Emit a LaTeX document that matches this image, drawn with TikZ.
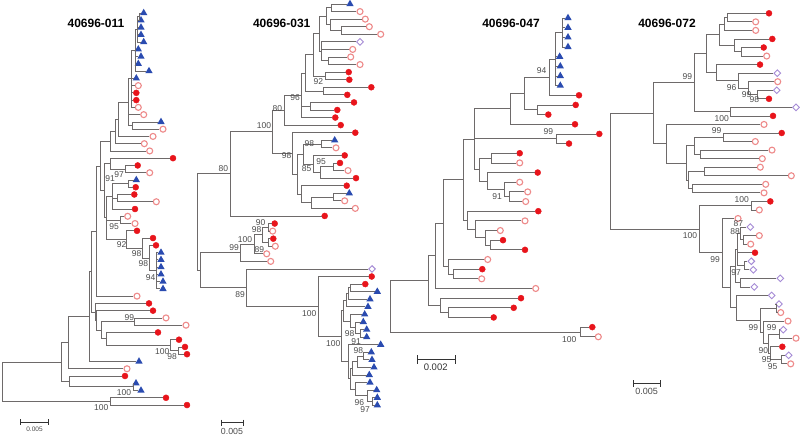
\documentclass[tikz,border=0pt]{standalone}
\usepackage{fontspec}
\setmainfont{Liberation Sans}
\usetikzlibrary{calc,shapes.geometric}
\definecolor{redF}{HTML}{E8141B}
\definecolor{redO}{HTML}{EE8A8A}
\definecolor{blueT}{HTML}{2A4BB0}
\definecolor{purD}{HTML}{A58BD6}
\definecolor{brc}{HTML}{6E6A6A}
\definecolor{labc}{HTML}{4D4D4D}
\newcommand{\lf}[4]{\node[#4] (#1) at (#2,{\yo+(#3-1)*\dy}) {};}
\newcommand{\cl}[5]{\path let \p1=($(#3)!.5!(#4)$) in coordinate (#1) at (#2pt,\y1);\foreach \ch in {#5}{\draw[br] (#1) |- (\ch);}}
\newcommand{\bs}[4]{\node[bsl] (#1) at (#2,#3) {#4};}
\tikzset{
 fil/.style={circle,fill=redF,draw=redF,inner sep=0pt,minimum size=6pt},
 opn/.style={circle,draw=redO,line width=1.1pt,fill=white,inner sep=0pt,minimum size=6pt},
 tri/.style={regular polygon,regular polygon sides=3,fill=blueT,inner sep=0pt,minimum size=8.5pt},
 dia/.style={diamond,draw=purD,line width=0.9pt,fill=white,inner sep=0pt,minimum size=7pt},
 br/.style={draw=brc,line width=0.8pt},
 bsl/.style={font=\fontsize{8.5}{9}\selectfont,text=labc,inner sep=0pt},
 ttl/.style={font=\bfseries\fontsize{12}{14}\selectfont,inner sep=0pt},
 sbar/.style={draw=black!80,line width=0.6pt,|-|},
}
\begin{document}
\begin{tikzpicture}[x=1pt,y=-1pt]
\fill[white] (0,0) rectangle (800,436);
\useasboundingbox (0,0) rectangle (800,436);
% ---------------- Tree 1 ----------------
\def\yo{13}\def\dy{7.26}
\lf{a1}{143.7}{1}{tri}\lf{a2}{141}{2}{tri}\lf{a3}{141}{3}{tri}\lf{a4}{141}{4}{tri}
\lf{a5}{143.7}{5}{tri}\lf{a6}{138.3}{6}{tri}\lf{a7}{141}{7}{tri}\lf{a8}{138.3}{8}{tri}
\lf{a9}{149}{9}{tri}\lf{a10}{136.3}{10}{tri}\lf{a11}{138.3}{11}{opn}\lf{a12}{136.3}{12}{fil}
\lf{a13}{136.3}{13}{fil}\lf{a14}{138.3}{14}{opn}\lf{a15}{143.7}{15}{opn}\lf{a16}{161}{16}{tri}
\lf{a17}{163}{17}{opn}\lf{a18}{153}{18}{opn}\lf{a19}{144.3}{19}{opn}\lf{a20}{149.7}{20}{opn}
\lf{a21}{173}{21}{fil}\lf{a22}{137.7}{22}{fil}\lf{a23}{149.7}{23}{opn}\lf{a24}{136.3}{24}{tri}
\lf{a25}{135.7}{25}{fil}\lf{a26}{134.3}{26}{fil}\lf{a27}{156.3}{27}{opn}\lf{a28}{135}{28}{fil}
\lf{a29}{127.7}{29}{opn}\lf{a30}{135}{30}{opn}\lf{a31}{137}{31}{fil}\lf{a32}{153}{32}{fil}
\lf{a33}{156}{33}{fil}\lf{a34}{161}{34}{tri}\lf{a35}{161}{35}{tri}\lf{a36}{161}{36}{tri}
\lf{a37}{161}{37}{tri}\lf{a38}{163}{38}{tri}\lf{a39}{163}{39}{tri}\lf{a40}{137}{40}{opn}
\lf{a41}{149}{41}{fil}\lf{a42}{153}{42}{fil}\lf{a43}{166}{43}{opn}\lf{a44}{186}{44}{opn}
\lf{a45}{158}{45}{fil}\lf{a46}{179}{46}{fil}\lf{a47}{185}{47}{fil}\lf{a48}{187}{48}{fil}
\lf{a49}{139}{49}{tri}\lf{a50}{127}{50}{opn}\lf{a51}{125}{51}{fil}\lf{a52}{136}{52}{tri}
\lf{a53}{141}{53}{tri}\lf{a54}{166}{54}{fil}\lf{a55}{187}{55}{fil}
\cl{aN1}{139}{a1}{a2}{a1,a2}
\cl{aN2}{137.5}{aN1}{a5}{aN1,a3,a4,a5}
\cl{aN3}{135}{aN2}{a9}{aN2,a6,a7,a8,a9}
\cl{aN4}{131.7}{aN3}{a14}{aN3,a10,a11,a12,a13,a14}
\cl{aN5}{132.3}{a16}{a17}{a16,a17}
\cl{aN6}{128.3}{aN4}{aN5}{aN4,a15,aN5}
\cl{aN7}{118.3}{aN6}{a18}{aN6,a18}
\cl{aN8}{115}{aN7}{a19}{aN7,a19}
\cl{aN9}{110.3}{aN8}{a20}{aN8,a20}
\cl{aN10}{125.7}{a22}{a23}{a22,a23}
\cl{aN11}{110}{a21}{aN10}{a21,aN10}
\cl{aN12}{128}{a24}{a25}{a24,a25}
\cl{aN13}{117}{a26}{a27}{a26,a27}
\cl{aN14}{112}{aN12}{a28}{aN12,aN13,a28}
\cl{aN15}{120}{a29}{a30}{a29,a30}
\cl{aN16}{156.7}{a34}{a39}{a34,a35,a36,a37,a38,a39}
\cl{aN17}{149.3}{a33}{aN16}{a33,aN16}
\cl{aN18}{142.7}{a32}{aN17}{a32,aN17}
\cl{aN19}{126.7}{a31}{aN18}{a31,aN18}
\cl{aN20}{106.7}{aN14}{aN19}{aN14,aN15,aN19}
\cl{aN21}{104}{aN11}{aN20}{aN11,aN20}
\cl{aN22}{100}{aN9}{aN21}{aN9,aN21}
\cl{aN23}{96.7}{aN22}{a40}{aN22,a40}
\cl{aN24}{134.3}{a43}{a44}{a43,a44}
\cl{aN25}{178.3}{a47}{a48}{a47,a48}
\cl{aN26}{170}{a46}{aN25}{a46,aN25}
\cl{aN27}{106.7}{a45}{aN26}{a45,aN26}
\cl{aN28}{101.7}{aN24}{aN27}{aN24,aN27}
\cl{aN29}{96.7}{a42}{aN28}{a42,aN28}
\cl{aN30}{95}{a41}{aN29}{a41,aN29}
\cl{aN31}{91.7}{aN23}{aN30}{aN23,aN30}
\cl{aN32}{89.3}{aN31}{a49}{aN31,a49}
\cl{aN33}{68.3}{aN32}{a50}{aN32,a50}
\cl{aN34}{133}{a52}{a53}{a52,a53}
\cl{aN35}{69}{a51}{aN34}{a51,aN34}
\cl{aN36}{61}{aN33}{aN35}{aN33,aN35}
\cl{aN37}{110}{a54}{a55}{a54,a55}
\cl{aR}{2}{aN36}{aN37}{aN36,aN37}
\bs{aL1}{110}{179}{91}\bs{aL2}{119}{175}{97}\bs{aL3}{114}{226.7}{95}
\bs{aL4}{121.7}{244.3}{92}\bs{aL5}{136.7}{253.3}{98}\bs{aL6}{143.3}{264}{98}
\bs{aL7}{150.7}{277.3}{94}\bs{aL8}{129.3}{317.3}{99}\bs{aL9}{162.3}{352}{100}
\bs{aL10}{172}{356.7}{98}\bs{aL11}{124}{392.7}{100}\bs{aL12}{101.3}{408}{100}
\node[ttl] (aT) at (96,23) {40696-011};
\coordinate (as1) at (20,422); \coordinate (as2) at (49,422);
\draw[sbar] (as1) -- (as2);
\node[font=\fontsize{6.5}{7}\selectfont,text=black!70,inner sep=0pt] (asl) at (34.5,429.5) {0.005};
% ---------------- Tree 2 ----------------
\def\yo{4}\def\dy{7.57}
\lf{b1}{350}{1}{tri}\lf{b2}{360}{2}{opn}\lf{b3}{365.3}{3}{opn}\lf{b4}{369.3}{4}{opn}
\lf{b5}{380.7}{5}{opn}\lf{b6}{360}{6}{dia}\lf{b7}{352.7}{7}{opn}\lf{b8}{350.7}{8}{opn}
\lf{b9}{360}{9}{opn}\lf{b10}{348.7}{10}{fil}\lf{b11}{349.3}{11}{fil}\lf{b12}{371.3}{12}{fil}
\lf{b13}{347.3}{13}{fil}\lf{b14}{354}{14}{fil}\lf{b15}{337.3}{15}{fil}\lf{b16}{335.3}{16}{fil}
\lf{b17}{340.7}{17}{fil}\lf{b18}{355.3}{18}{fil}\lf{b19}{334.7}{19}{tri}\lf{b20}{336}{20}{opn}
\lf{b21}{344.7}{21}{fil}\lf{b22}{340}{22}{fil}\lf{b23}{348}{23}{opn}\lf{b24}{356}{24}{fil}
\lf{b25}{346.7}{25}{fil}\lf{b26}{349.3}{26}{tri}\lf{b27}{344.7}{27}{opn}\lf{b28}{355.3}{28}{opn}
\lf{b29}{324.7}{29}{fil}\lf{b30}{274.7}{30}{fil}\lf{b31}{272.7}{31}{opn}\lf{b32}{273.3}{32}{fil}
\lf{b33}{275.3}{33}{opn}\lf{b34}{266.7}{34}{opn}\lf{b35}{270.7}{35}{opn}\lf{b36}{372}{36}{dia}
\lf{b37}{371.7}{37}{fil}\lf{b38}{365.3}{38}{fil}\lf{b39}{377.3}{39}{tri}\lf{b40}{370}{40}{tri}
\lf{b41}{368}{41}{tri}\lf{b42}{364.7}{42}{tri}\lf{b43}{363.3}{43}{tri}\lf{b44}{366.7}{44}{tri}
\lf{b45}{366.7}{45}{tri}\lf{b46}{380.7}{46}{tri}\lf{b47}{371.3}{47}{tri}\lf{b48}{372}{48}{tri}
\lf{b49}{374}{49}{tri}\lf{b50}{369.3}{50}{tri}\lf{b51}{370}{51}{tri}\lf{b52}{376.7}{52}{tri}
\lf{b53}{377.3}{53}{tri}\lf{b54}{377.3}{54}{tri}
\cl{bN1}{331.7}{b1}{b2}{b1,b2}
\cl{bN2}{341.7}{b4}{b5}{b4,b5}
\cl{bN3}{330}{b3}{bN2}{b3,bN2}
\cl{bN4}{326}{bN1}{bN3}{bN1,bN3}
\cl{bN5}{328.3}{b8}{b9}{b8,b9}
\cl{bN6}{321.7}{b6}{bN5}{b6,b7,bN5}
\cl{bN7}{319.3}{bN4}{bN6}{bN4,bN6}
\cl{bN8}{325}{b10}{b11}{b10,b11}
\cl{bN9}{313.3}{bN7}{bN8}{bN7,bN8}
\cl{bN10}{323.3}{b12}{b13}{b12,b13}
\cl{bN11}{305}{bN9}{bN10}{bN9,bN10}
\cl{bN12}{310}{b14}{b15}{b14,b15}
\cl{bN13}{301.7}{bN11}{b16}{bN11,bN12,b16}
\cl{bN14}{284}{bN13}{b17}{bN13,b17}
\cl{bN15}{321.7}{b19}{b20}{b19,b20}
\cl{bN16}{333.3}{b22}{b23}{b22,b23}
\cl{bN17}{320}{bN16}{b24}{bN16,b24}
\cl{bN18}{313.3}{b21}{bN17}{b21,bN17}
\cl{bN19}{303}{bN15}{bN18}{bN15,bN18}
\cl{bN20}{333.3}{b26}{b27}{b26,b27}
\cl{bN21}{311.7}{bN20}{b28}{bN20,b28}
\cl{bN22}{301.7}{b25}{bN21}{b25,bN21}
\cl{bN23}{297.3}{bN19}{bN22}{bN19,bN22}
\cl{bN24}{292.7}{b18}{bN23}{b18,bN23}
\cl{bN25}{272.7}{bN14}{bN24}{bN14,bN24}
\cl{bN26}{230}{bN25}{b29}{bN25,b29}
\cl{bN27}{268.7}{b30}{b31}{b30,b31}
\cl{bN28}{268.7}{b32}{b33}{b32,b33}
\cl{bN29}{262.7}{bN27}{bN28}{bN27,bN28}
\cl{bN30}{254}{bN29}{b34}{bN29,b34}
\cl{bN31}{240.7}{bN30}{b35}{bN30,b35}
\cl{bN32}{350}{b38}{b39}{b38,b39}
\cl{bN33}{348.3}{bN32}{b40}{bN32,b40}
\cl{bN34}{346}{bN33}{b41}{bN33,b41}
\cl{bN35}{360}{b44}{b45}{b44,b45}
\cl{bN36}{355}{b43}{bN35}{b43,bN35}
\cl{bN37}{350}{b42}{bN36}{b42,bN36}
\cl{bN38}{343.3}{bN34}{bN37}{bN34,bN37}
\cl{bN39}{363.3}{b47}{b48}{b47,b48}
\cl{bN40}{357}{bN39}{b49}{bN39,b49}
\cl{bN41}{352}{bN40}{b50}{bN40,b50}
\cl{bN42}{372}{b53}{b54}{b53,b54}
\cl{bN43}{367}{b52}{bN42}{b52,bN42}
\cl{bN44}{355}{b51}{bN43}{b51,bN43}
\cl{bN45}{350}{bN41}{bN44}{bN41,bN44}
\cl{bN46}{348.3}{b46}{bN45}{b46,bN45}
\cl{bN47}{341.7}{bN38}{bN46}{bN38,bN46}
\cl{bN48}{318.3}{b37}{bN47}{b37,bN47}
\cl{bN49}{246.7}{b36}{bN48}{b36,bN48}
\cl{bN50}{200.7}{bN31}{bN49}{bN31,bN49}
\cl{bR}{197.3}{bN26}{bN50}{bN26,bN50}
\bs{bL1}{223.3}{168.3}{80}\bs{bL2}{264}{126}{100}\bs{bL3}{277.3}{108.3}{80}
\bs{bL4}{295}{97.3}{96}\bs{bL5}{318.3}{82}{92}\bs{bL6}{286.7}{156}{98}
\bs{bL7}{309.3}{144}{98}\bs{bL8}{321}{161.7}{95}\bs{bL9}{306.7}{168.3}{85}
\bs{bL10}{260.7}{222.7}{90}\bs{bL11}{256.7}{230}{98}\bs{bL12}{245}{239.3}{100}
\bs{bL13}{234}{247.7}{99}\bs{bL14}{259.3}{250}{89}\bs{bL15}{240}{295}{89}
\bs{bL16}{309.3}{314}{100}\bs{bL17}{333.3}{344}{100}\bs{bL18}{349.5}{333.5}{98}
\bs{bL19}{356}{341.5}{91}\bs{bL20}{358.3}{350.7}{98}\bs{bL21}{359.3}{402.7}{96}
\bs{bL22}{365}{409.3}{97}
\node[ttl] (bT) at (281.7,23) {40696-031};
\coordinate (bs1) at (220.7,422.7); \coordinate (bs2) at (243.3,422.7);
\draw[sbar] (bs1) -- (bs2);
\node[font=\fontsize{8.8}{9}\selectfont,text=black!70,inner sep=0pt] (bsl) at (232,431) {0.005};
% ---------------- Tree 3 ----------------
\def\yo{18}\def\dy{9.66}
\lf{c1}{568}{1}{tri}\lf{c2}{568}{2}{tri}\lf{c3}{568}{3}{tri}\lf{c4}{568}{4}{tri}
\lf{c5}{559.7}{5}{tri}\lf{c6}{560.3}{6}{tri}\lf{c7}{560.3}{7}{tri}\lf{c8}{560.3}{8}{tri}
\lf{c9}{579}{9}{fil}\lf{c10}{575.7}{10}{fil}\lf{c11}{548.3}{11}{fil}\lf{c12}{575}{12}{fil}
\lf{c13}{599.3}{13}{fil}\lf{c14}{569}{14}{fil}\lf{c15}{519.7}{15}{fil}\lf{c16}{519.7}{16}{opn}
\lf{c17}{537.7}{17}{fil}\lf{c18}{519.7}{18}{opn}\lf{c19}{527.7}{19}{opn}\lf{c20}{525.7}{20}{opn}
\lf{c21}{538.3}{21}{fil}\lf{c22}{525}{22}{opn}\lf{c23}{500.3}{23}{opn}\lf{c24}{503}{24}{fil}
\lf{c25}{525}{25}{fil}\lf{c26}{487.7}{26}{opn}\lf{c27}{482.3}{27}{fil}\lf{c28}{481.7}{28}{opn}
\lf{c29}{535.7}{29}{opn}\lf{c30}{521}{30}{fil}\lf{c31}{513.7}{31}{fil}\lf{c32}{493.7}{32}{fil}
\lf{c33}{592.3}{33}{fil}\lf{c34}{598.3}{34}{opn}
\cl{cN1}{562.3}{c1}{c4}{c1,c2,c3,c4}
\cl{cN2}{555.7}{cN1}{c8}{cN1,c5,c6,c7,c8}
\cl{cN3}{549.7}{cN2}{c9}{cN2,c9}
\cl{cN4}{537.7}{c10}{c11}{c10,c11}
\cl{cN5}{524.3}{cN3}{cN4}{cN3,cN4}
\cl{cN6}{510.3}{cN5}{c12}{cN5,c12}
\cl{cN7}{556.3}{c13}{c14}{c13,c14}
\cl{cN8}{491.7}{c15}{c16}{c15,c16}
\cl{cN9}{509}{c19}{c20}{c19,c20}
\cl{cN10}{504.3}{c18}{cN9}{c18,cN9}
\cl{cN11}{487.7}{c17}{cN10}{c17,cN10}
\cl{cN12}{479.3}{cN8}{cN11}{cN8,cN11}
\cl{cN13}{474.3}{cN6}{cN12}{cN6,cN7,cN12}
\cl{cN14}{490}{c24}{c25}{c24,c25}
\cl{cN15}{485}{c23}{cN14}{c23,cN14}
\cl{cN16}{475.7}{c22}{cN15}{c22,cN15}
\cl{cN17}{467.7}{c21}{cN16}{c21,cN16}
\cl{cN18}{463.7}{cN13}{cN17}{cN13,cN17}
\cl{cN19}{453.3}{c27}{c28}{c27,c28}
\cl{cN20}{448.3}{c26}{cN19}{c26,cN19}
\cl{cN21}{443.3}{cN18}{cN20}{cN18,cN20}
\cl{cN22}{435.7}{cN21}{c29}{cN21,c29}
\cl{cN23}{448.3}{c31}{c32}{c31,c32}
\cl{cN24}{440}{c30}{cN23}{c30,cN23}
\cl{cN25}{428.3}{cN22}{cN24}{cN22,cN24}
\cl{cN26}{580}{c33}{c34}{c33,c34}
\cl{cR}{390.7}{cN25}{cN26}{cN25,cN26}
\bs{cL1}{541.7}{70.7}{94}\bs{cL2}{548.3}{132}{99}\bs{cL3}{497}{196.7}{91}
\bs{cL4}{569.3}{340}{100}
\node[ttl] (cT) at (511,23) {40696-047};
\coordinate (cs1) at (416.7,359.3); \coordinate (cs2) at (455.7,359.3);
\draw[sbar,line width=1.2pt] (cs1) -- (cs2);
\node[font=\fontsize{9.5}{10}\selectfont,text=black!80,inner sep=0pt] (csl) at (435.7,367.5) {0.002};
% ---------------- Tree 4 ----------------
\def\yo{13.3}\def\dy{8.55}
\lf{d1}{769}{1}{fil}\lf{d2}{755.7}{2}{opn}\lf{d3}{755.7}{3}{opn}\lf{d4}{772.3}{4}{fil}
\lf{d5}{763.7}{5}{fil}\lf{d6}{766.7}{6}{opn}\lf{d7}{760}{7}{fil}\lf{d8}{777.3}{8}{dia}
\lf{d9}{777.7}{9}{opn}\lf{d10}{776.7}{10}{dia}\lf{d11}{769}{11}{fil}\lf{d12}{796}{12}{dia}
\lf{d13}{773}{13}{fil}\lf{d14}{764}{14}{opn}\lf{d15}{781.7}{15}{fil}\lf{d16}{755.3}{16}{opn}
\lf{d17}{772}{17}{opn}\lf{d18}{762.3}{18}{opn}\lf{d19}{760.3}{19}{opn}\lf{d20}{791.3}{20}{opn}
\lf{d21}{765.7}{21}{opn}\lf{d22}{764}{22}{opn}\lf{d23}{770.3}{23}{fil}\lf{d24}{759.3}{24}{opn}
\lf{d25}{738}{25}{opn}\lf{d26}{750.3}{26}{dia}\lf{d27}{759.3}{27}{opn}\lf{d28}{750.7}{28}{opn}
\lf{d29}{755}{29}{fil}\lf{d30}{751.3}{30}{dia}\lf{d31}{753.3}{31}{dia}\lf{d32}{780.3}{32}{dia}
\lf{d33}{754.3}{33}{dia}\lf{d34}{771.7}{34}{dia}\lf{d35}{779}{35}{dia}\lf{d36}{780.7}{36}{opn}
\lf{d37}{788}{37}{opn}\lf{d38}{783.3}{38}{dia}\lf{d39}{796}{39}{opn}\lf{d40}{782.3}{40}{fil}
\lf{d41}{788.7}{41}{dia}\lf{d42}{790.7}{42}{opn}
\cl{dN1}{727.3}{d1}{d2}{d1,d2}
\cl{dN2}{724}{dN1}{d3}{dN1,d3}
\cl{dN3}{741.7}{d5}{d6}{d5,d6}
\cl{dN4}{734}{d4}{dN3}{d4,dN3}
\cl{dN5}{719.3}{dN2}{dN4}{dN2,dN4}
\cl{dN6}{757}{d10}{d11}{d10,d11}
\cl{dN7}{748}{d9}{dN6}{d9,dN6}
\cl{dN8}{738}{d8}{dN7}{d8,dN7}
\cl{dN9}{716}{d7}{dN8}{d7,dN8}
\cl{dN10}{706}{dN5}{dN9}{dN5,dN9}
\cl{dN11}{730.7}{d12}{d13}{d12,d13}
\cl{dN12}{694}{dN10}{dN11}{dN10,dN11}
\cl{dN13}{723.3}{d15}{d16}{d15,d16}
\cl{dN14}{700}{d17}{d18}{d17,d18}
\cl{dN15}{694}{dN13}{dN14}{dN13,dN14}
\cl{dN16}{704}{d19}{d20}{d19,d20}
\cl{dN17}{692.7}{d21}{d22}{d21,d22}
\cl{dN18}{688.3}{dN16}{dN17}{dN16,dN17}
\cl{dN19}{686}{dN15}{dN18}{dN15,dN18}
\cl{dN20}{666.7}{d14}{dN19}{d14,dN19}
\cl{dN21}{653.3}{dN12}{dN20}{dN12,dN20}
\cl{dN22}{751}{d23}{d24}{d23,d24}
\cl{dN23}{743.3}{d27}{d28}{d27,d28}
\cl{dN24}{740}{d26}{dN23}{d26,dN23}
\cl{dN25}{744}{d30}{d31}{d30,d31}
\cl{dN26}{737.3}{dN24}{dN25}{dN24,d29,dN25}
\cl{dN27}{740.7}{d32}{d33}{d32,d33}
\cl{dN28}{735.7}{dN26}{dN27}{dN26,dN27}
\cl{dN29}{776.7}{d35}{d36}{d35,d36}
\cl{dN30}{779.3}{d38}{d39}{d38,d39}
\cl{dN31}{781}{d41}{d42}{d41,d42}
\cl{dN32}{770}{d40}{dN31}{d40,dN31}
\cl{dN33}{768}{dN30}{dN32}{dN30,dN32}
\cl{dN34}{763.3}{d37}{dN33}{d37,dN33}
\cl{dN35}{760.7}{dN29}{dN34}{dN29,dN34}
\cl{dN36}{736.7}{d34}{dN35}{d34,dN35}
\cl{dN37}{730.7}{dN28}{dN36}{dN28,dN36}
\cl{dN38}{722.7}{d25}{dN37}{d25,dN37}
\cl{dN39}{699.3}{dN22}{dN38}{dN22,dN38}
\cl{dR}{610.3}{dN21}{dN39}{dN21,dN39}
\bs{dL1}{687.3}{76.7}{99}\bs{dL2}{731.7}{87.3}{96}\bs{dL3}{746.7}{94.7}{99}
\bs{dL4}{754.3}{99.3}{98}\bs{dL5}{721.7}{118.3}{100}\bs{dL6}{716.7}{131}{99}
\bs{dL7}{741.7}{199.3}{100}\bs{dL8}{690}{236}{100}\bs{dL9}{715}{260}{99}
\bs{dL10}{738.3}{224}{87}\bs{dL11}{735}{231.7}{88}\bs{dL12}{736}{272.7}{97}
\bs{dL13}{753.3}{327.3}{99}\bs{dL14}{771.7}{327.3}{99}\bs{dL15}{763.3}{350.7}{90}
\bs{dL16}{766.7}{359.3}{95}\bs{dL17}{772.7}{366.7}{95}
\node[ttl] (dT) at (667,23) {40696-072};
\coordinate (ds1) at (632.7,383.3); \coordinate (ds2) at (660.7,383.3);
\draw[sbar] (ds1) -- (ds2);
\node[font=\fontsize{9}{9}\selectfont,text=black!70,inner sep=0pt] (dsl) at (646.7,391) {0.005};
\end{tikzpicture}
\end{document}
